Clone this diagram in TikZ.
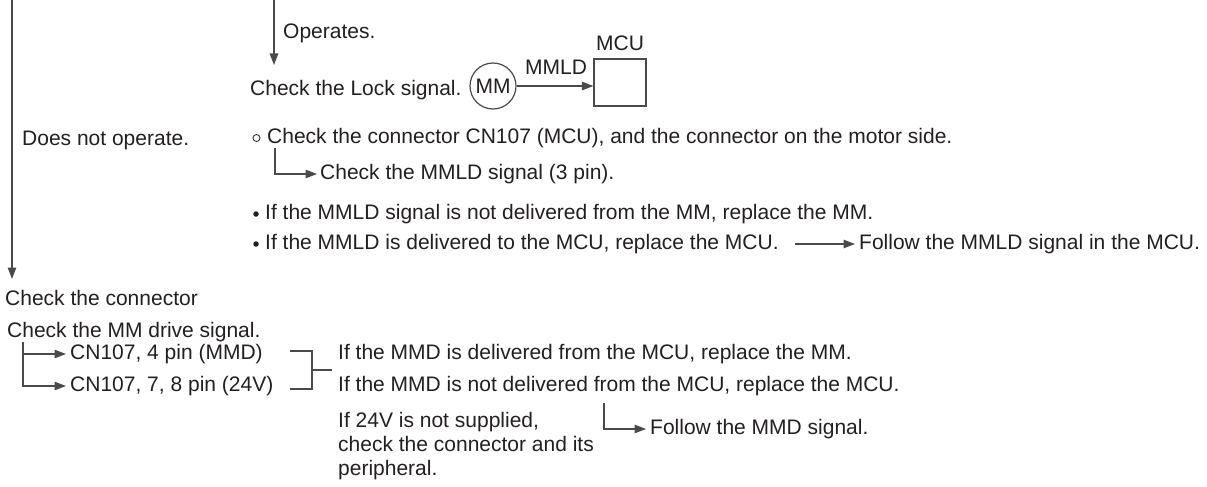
\documentclass[tikz,border=0pt]{standalone}
\usepackage{fontspec}
\setmainfont{Liberation Sans}
\usetikzlibrary{arrows.meta}
\definecolor{ink}{HTML}{231F20}
\definecolor{lineink}{HTML}{4A4A4A}
\begin{document}
\begin{tikzpicture}[x=1pt,y=-1pt,
  txt/.style={anchor=west, inner sep=0pt, text height=15pt, text depth=4.5pt,
              font=\fontsize{21}{24}\selectfont, text=ink},
  conn/.style={draw=lineink, line width=1.2pt},
  arr/.style={conn, -{Triangle[length=11.5pt,width=8.5pt]}},
  dot/.style={circle, fill=ink, minimum size=5.5pt, inner sep=0pt},
]
\useasboundingbox (0,0) rectangle (1207,487);

% --- top: operates branch
\coordinate (opTop) at (274,0);
\coordinate (opEnd) at (274,65);
\draw[arr] (opTop) -- (opEnd);
\node[txt] (operates) at (283,33) {Operates.};
\node[txt] (lock) at (250,90) {Check the Lock signal.};
\node[draw=lineink, line width=1.2pt, circle, minimum size=46pt, inner sep=0pt,
      font=\fontsize{21}{24}\selectfont, text=ink] (mm) at (493,86) {MM};
\node[draw=lineink, line width=1.2pt, minimum width=52pt, minimum height=47pt,
      inner sep=0pt] (mcu) at (620,82.5) {};
\node[txt, anchor=center] (mcuLabel) at (620,45) {MCU};
\node[txt, anchor=center] (mmld) at (556,69) {MMLD};
\draw[arr] (mm.east) -- (mm.east -| mcu.west);

% --- does not operate branch
\node[txt] (dno) at (22,140) {Does not operate.};
\node[circle, draw=ink, line width=0.8pt, minimum size=7pt, inner sep=0pt] (ocirc) at (256.5,138) {};
\node[txt] (chkconn) at (267,138) {Check the connector CN107 (MCU), and the connector on the motor side.};
\coordinate (e1) at (275,148);
\node[txt] (chkmmld) at (320,174) {Check the MMLD signal (3 pin).};
\draw[arr, shorten >=3pt] (e1) |- (chkmmld.west);
\node[dot] (b1) at (256,214) {};
\node[txt] (if1) at (265,214) {If the MMLD signal is not delivered from the MM, replace the MM.};
\node[dot] (b2) at (256,244) {};
\node[txt] (if2) at (265,244) {If the MMLD is delivered to the MCU, replace the MCU.};
\node[txt] (follow1) at (859,244) {Follow the MMLD signal in the MCU.};
\coordinate (a1) at (795,244);
\draw[arr, shorten >=4pt] (a1) -- (follow1.west);

% --- left main line
\coordinate (lTop) at (12,0);
\coordinate (lEnd) at (12,279);
\draw[arr] (lTop) -- (lEnd);
\node[txt] (chkc) at (5,300) {Check the connector};
\node[txt] (drive) at (7,332) {Check the MM drive signal.};
\coordinate (e2) at (23,342);
\node[txt] (cn4) at (70,354) {CN107, 4 pin (MMD)};
\node[txt] (cn78) at (70,386) {CN107, 7, 8 pin (24V)};
\draw[arr, shorten >=4pt] (e2) |- (cn4.west);
\draw[arr, shorten >=4pt] (e2) |- (cn78.west);

% bracket
\coordinate (brTop) at (290,351);
\coordinate (brBot) at (290,389);
\coordinate (brMid) at (312,370);
\coordinate (brOut) at (332,370);
\draw[conn] (brTop) -| (brMid) |- (brBot);
\draw[conn] (brMid) -- (brOut);
\node[txt] (mmd1) at (338,354) {If the MMD is delivered from the MCU, replace the MM.};
\node[txt] (mmd2) at (338,386) {If the MMD is not delivered from the MCU, replace the MCU.};
\node[anchor=north west, align=left, inner sep=0pt, font=\fontsize{21}{24}\selectfont, text=ink]
  (v24) at (338,412) {If 24V is not supplied,\\check the connector and its\\peripheral.};
\coordinate (e3) at (604,403);
\node[txt] (follow2) at (650,429) {Follow the MMD signal.};
\draw[arr, shorten >=4pt] (e3) |- (follow2.west);
\end{tikzpicture}
\end{document}
